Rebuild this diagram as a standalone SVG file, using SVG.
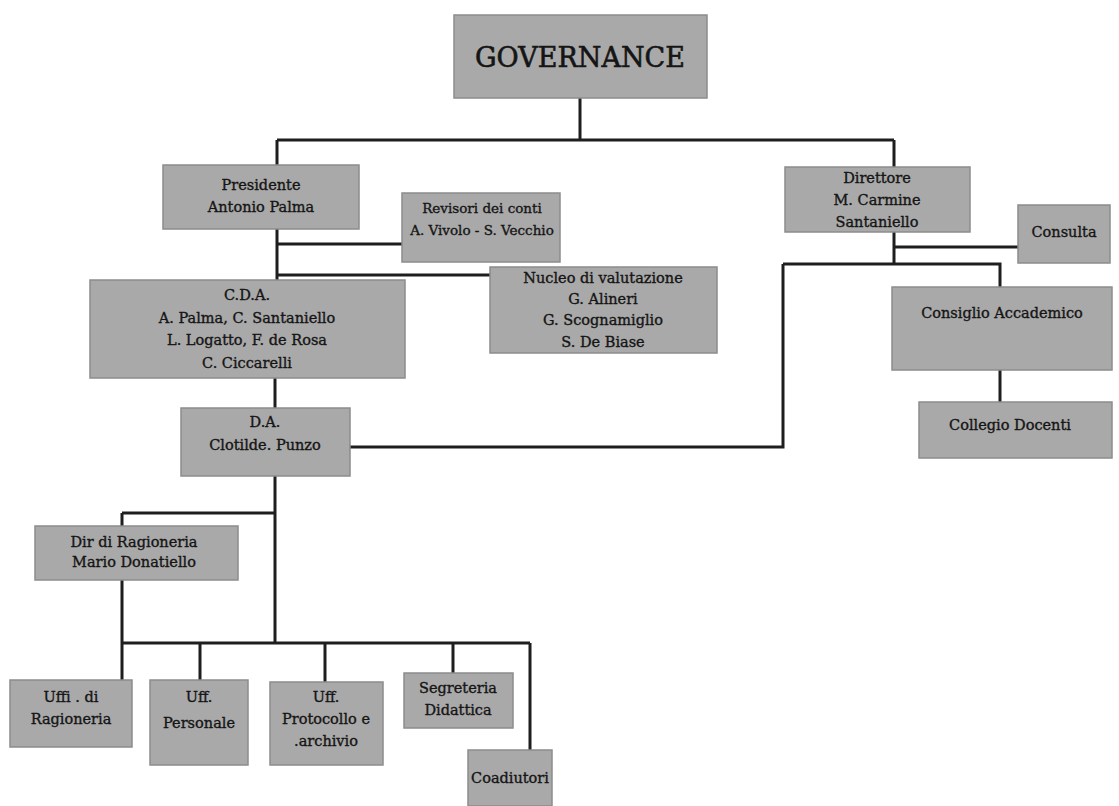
<svg xmlns="http://www.w3.org/2000/svg" width="1119" height="806" viewBox="0 0 1119 806">
<style>
.box{fill:#a9a9a9;stroke:#8c8c8c;stroke-width:1.5}
.t{font-family:"DejaVu Serif","Liberation Serif",serif;font-size:14.5px;fill:#151515;stroke:#151515;stroke-width:0.35;text-anchor:middle}
.big{font-size:27px;stroke-width:0.6}
.c{fill:none;stroke:#1e1e1e;stroke-width:3}
</style>
<rect width="1119" height="806" fill="#ffffff"/>
<g id="connectors">
<path class="c" d="M580,98V140M277,140H894M277,140V165M894,140V167"/>
<path class="c" d="M277,229V280M277,244H402M277,275H490"/>
<path class="c" d="M894,232V264M894,247H1018M783,264H1000V287M1000,370V402"/>
<path class="c" d="M350,447H783V264"/>
<path class="c" d="M275,378V408M275,476V643M122,513H275M122,513V680M122,643H530"/>
<path class="c" d="M200,643V680M325,643V682M453,643V673M530,643V750"/>
</g>
<g id="governance"><rect class="box" x="454" y="15" width="253" height="83"/><text class="t big" x="580" y="67">GOVERNANCE</text></g>
<g id="presidente"><rect class="box" x="163" y="165" width="196" height="64"/><text class="t" x="261" y="190">Presidente</text><text class="t" x="261" y="212">Antonio Palma</text></g>
<g id="revisori"><rect class="box" x="402" y="193" width="158" height="69"/><text class="t" x="482" y="213" style="font-size:13.5px">Revisori dei conti</text><text class="t" x="482" y="235" style="font-size:13.5px">A. Vivolo - S. Vecchio</text></g>
<g id="nucleo"><rect class="box" x="490" y="267" width="227" height="86"/><text class="t" x="603" y="283">Nucleo di valutazione</text><text class="t" x="603" y="304">G. Alineri</text><text class="t" x="603" y="325">G. Scognamiglio</text><text class="t" x="603" y="347">S. De Biase</text></g>
<g id="cda"><rect class="box" x="90" y="280" width="315" height="98"/><text class="t" x="247" y="300">C.D.A.</text><text class="t" x="247" y="323">A. Palma, C. Santaniello</text><text class="t" x="247" y="345">L. Logatto, F. de Rosa</text><text class="t" x="247" y="368">C. Ciccarelli</text></g>
<g id="direttore"><rect class="box" x="785" y="167" width="185" height="65"/><text class="t" x="877" y="183">Direttore</text><text class="t" x="877" y="205">M. Carmine</text><text class="t" x="877" y="227">Santaniello</text></g>
<g id="consulta"><rect class="box" x="1018" y="205" width="92" height="58"/><text class="t" x="1064" y="237">Consulta</text></g>
<g id="consiglio"><rect class="box" x="892" y="287" width="220" height="83"/><text class="t" x="1002" y="318">Consiglio Accademico</text></g>
<g id="collegio"><rect class="box" x="919" y="402" width="193" height="56"/><text class="t" x="1010" y="430">Collegio Docenti</text></g>
<g id="da"><rect class="box" x="181" y="408" width="169" height="68"/><text class="t" x="265" y="427">D.A.</text><text class="t" x="265" y="450">Clotilde. Punzo</text></g>
<g id="dir-ragioneria"><rect class="box" x="35" y="526" width="203" height="54"/><text class="t" x="134" y="547">Dir di Ragioneria</text><text class="t" x="134" y="567">Mario Donatiello</text></g>
<g id="uffi-ragioneria"><rect class="box" x="10" y="680" width="122" height="67"/><text class="t" x="71" y="702">Uffi . di</text><text class="t" x="71" y="724">Ragioneria</text></g>
<g id="uff-personale"><rect class="box" x="150" y="680" width="98" height="85"/><text class="t" x="199" y="702">Uff.</text><text class="t" x="199" y="728">Personale</text></g>
<g id="uff-protocollo"><rect class="box" x="270" y="682" width="113" height="83"/><text class="t" x="326" y="702">Uff.</text><text class="t" x="326" y="724">Protocollo e</text><text class="t" x="326" y="746">.archivio</text></g>
<g id="segreteria"><rect class="box" x="404" y="673" width="109" height="55"/><text class="t" x="458" y="693">Segreteria</text><text class="t" x="458" y="715">Didattica</text></g>
<g id="coadiutori"><rect class="box" x="468" y="750" width="84" height="56"/><text class="t" x="510" y="783">Coadiutori</text></g>
</svg>
